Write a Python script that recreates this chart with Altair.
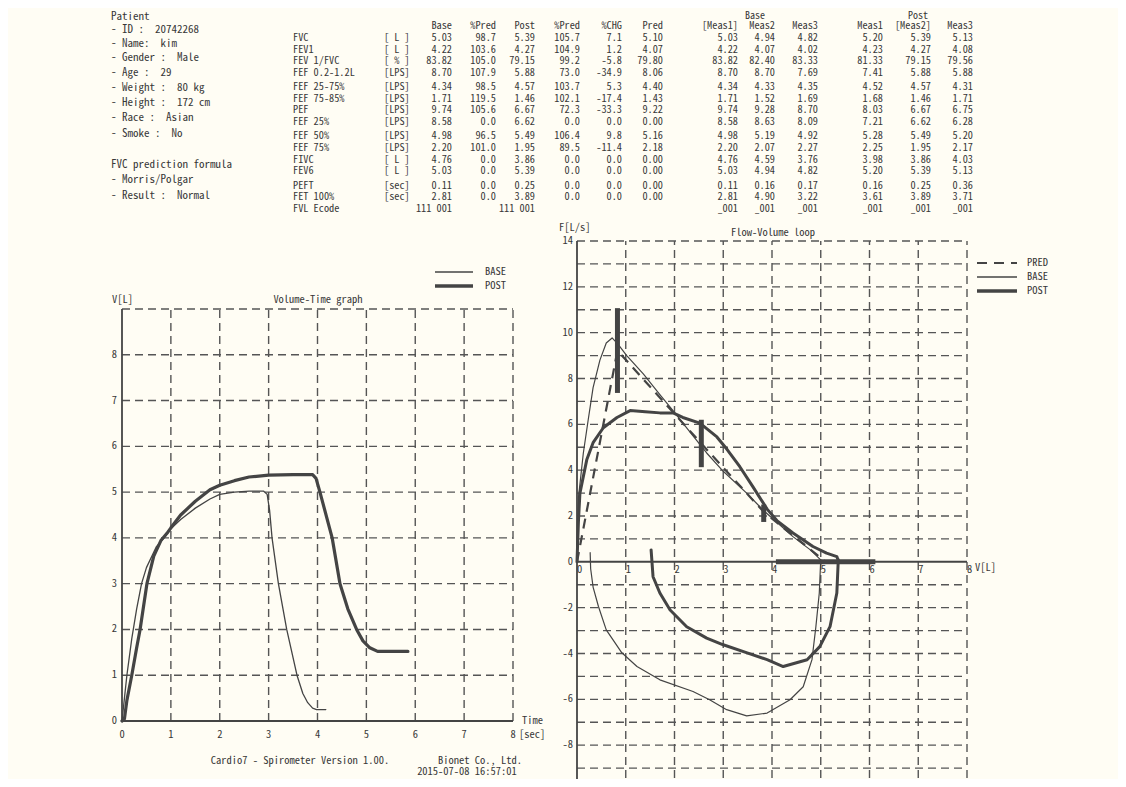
import altair as alt
import pandas as pd

# ------------------------------------------------------------------ data
patient_lines = ["Patient", "- ID :  20742268", "- Name:  kim", "- Gender :  Male",
                 "- Age :  29", "- Weight :  80 kg", "- Height :  172 cm",
                 "- Race :  Asian", "- Smoke :  No", "FVC prediction formula",
                 "- Morris/Polgar", "- Result :  Normal"]

params = ["FVC", "FEV1", "FEV 1/FVC", "FEF 0.2-1.2L", "FEF 25-75%", "FEF 75-85%", "PEF",
          "FEF 25%", "FEF 50%", "FEF 75%", "FIVC", "FEV6", "PEFT", "FET 100%", "FVL Ecode"]
units = ["[ L ]", "[ L ]", "[ % ]", "[LPS]", "[LPS]", "[LPS]", "[LPS]", "[LPS]", "[LPS]",
         "[LPS]", "[ L ]", "[ L ]", "[sec]", "[sec]", ""]
col_headers = ["Base", "%Pred", "Post", "%Pred", "%CHG", "Pred"]
base = ["5.03", "4.22", "83.82", "8.70", "4.34", "1.71", "9.74", "8.58", "4.98", "2.20",
        "4.76", "5.03", "0.11", "2.81", "111 001"]
pct_pred_base = ["98.7", "103.6", "105.0", "107.9", "98.5", "119.5", "105.6", "0.0", "96.5",
                 "101.0", "0.0", "0.0", "0.0", "0.0", ""]
post = ["5.39", "4.27", "79.15", "5.88", "4.57", "1.46", "6.67", "6.62", "5.49", "1.95",
        "3.86", "5.39", "0.25", "3.89", "111 001"]
pct_pred_post = ["105.7", "104.9", "99.2", "73.0", "103.7", "102.1", "72.3", "0.0", "106.4",
                 "89.5", "0.0", "0.0", "0.0", "0.0", ""]
pct_chg = ["7.1", "1.2", "-5.8", "-34.9", "5.3", "-17.4", "-33.3", "0.0", "9.8", "-11.4",
           "0.0", "0.0", "0.0", "0.0", ""]
pred = ["5.10", "4.07", "79.80", "8.06", "4.40", "1.43", "9.22", "0.00", "5.16", "2.18",
        "0.00", "0.00", "0.00", "0.00", ""]

meas_group_headers = ["Base", "Post"]
meas_headers = ["[Meas1]", "Meas2", "Meas3", "Meas1", "[Meas2]", "Meas3"]
base_meas1 = ["5.03", "4.22", "83.82", "8.70", "4.34", "1.71", "9.74", "8.58", "4.98", "2.20",
              "4.76", "5.03", "0.11", "2.81", "_001"]
base_meas2 = ["4.94", "4.07", "82.40", "8.70", "4.33", "1.52", "9.28", "8.63", "5.19", "2.07",
              "4.59", "4.94", "0.16", "4.90", "_001"]
base_meas3 = ["4.82", "4.02", "83.33", "7.69", "4.35", "1.69", "8.70", "8.09", "4.92", "2.27",
              "3.76", "4.82", "0.17", "3.22", "_001"]
post_meas1 = ["5.20", "4.23", "81.33", "7.41", "4.52", "1.68", "8.03", "7.21", "5.28", "2.25",
              "3.98", "5.20", "0.16", "3.61", "_001"]
post_meas2 = ["5.39", "4.27", "79.15", "5.88", "4.57", "1.46", "6.67", "6.62", "5.49", "1.95",
              "3.86", "5.39", "0.25", "3.89", "_001"]
post_meas3 = ["5.13", "4.08", "79.56", "5.88", "4.31", "1.71", "6.75", "6.28", "5.20", "2.17",
              "4.03", "5.13", "0.36", "3.71", "_001"]

# Volume-Time graph
vt_base_t = [0, 0.05, 0.1, 0.2, 0.3, 0.4, 0.5, 0.7, 0.9, 1.0, 1.2, 1.5, 1.8, 2.0, 2.3, 2.6,
             2.9, 2.97, 3.02, 3.07, 3.2, 3.37, 3.58, 3.7, 3.8, 3.9, 3.98, 4.17]
vt_base_v = [0, 0.5, 1.0, 1.8, 2.45, 3.0, 3.35, 3.8, 4.05, 4.2, 4.4, 4.65, 4.85, 4.95, 5.0,
             5.02, 5.02, 4.95, 4.6, 4.0, 3.0, 2.0, 1.0, 0.6, 0.4, 0.28, 0.25, 0.25]
vt_post_t = [0, 0.05, 0.1, 0.2, 0.3, 0.37, 0.51, 0.65, 0.8, 0.92, 1.0, 1.2, 1.5, 1.8, 2.0,
             2.3, 2.6, 3.0, 3.5, 3.9, 3.97, 4.05, 4.3, 4.46, 4.62, 4.8, 4.93, 5.07, 5.23, 5.85]
vt_post_v = [0, 0.05, 0.45, 1.0, 1.6, 2.0, 3.0, 3.6, 3.95, 4.1, 4.22, 4.5, 4.8, 5.05, 5.15,
             5.25, 5.33, 5.37, 5.38, 5.38, 5.3, 5.0, 4.0, 3.0, 2.45, 2.0, 1.75, 1.6, 1.52, 1.52]

# Flow-Volume loop
fv_pred_v = [0, 0.83, 2.55, 3.83, 5.10]
fv_pred_f = [0, 9.22, 5.16, 2.18, 0]
fv_base_v = [0, 0.03, 0.13, 0.23, 0.33, 0.47, 0.6, 0.72, 0.84, 1.02, 1.36, 1.7, 1.97, 2.38,
             2.66, 3.0, 3.48, 3.82, 4.43, 4.8, 5.04,
             5.0, 4.97, 4.9, 4.82, 4.64, 4.37, 3.9, 3.48, 3.07, 2.72, 2.38, 1.7, 1.23, 0.92,
             0.6, 0.44, 0.33, 0.28, 0.27]
fv_base_f = [0, 2.8, 4.75, 6.2, 7.6, 8.8, 9.55, 9.77, 9.5, 9.0, 8.2, 7.3, 6.6, 5.5,
             4.75, 3.95, 3.0, 2.25, 1.1, 0.5, 0,
             0.1, -1.36, -2.83, -4.27, -5.45, -6.02, -6.6, -6.72, -6.45, -6.02, -5.66, -5.15,
             -4.57, -3.97, -2.97, -1.95, -1.1, -0.3, 0.4]
fv_post_v = [0, 0.03, 0.06, 0.2, 0.33, 0.54, 0.82, 1.09, 1.4, 1.7, 1.97, 2.17, 2.52, 2.87,
             3.08, 3.34, 3.61, 3.9, 4.1, 4.43, 4.84, 5.12, 5.33, 5.36,
             5.36, 5.33, 5.19, 4.98, 4.72, 4.23, 3.9, 3.49, 3.0, 2.66, 2.25, 1.91, 1.7, 1.56,
             1.52]
fv_post_f = [0, 1.8, 3.0, 4.45, 5.2, 5.85, 6.3, 6.6, 6.55, 6.5, 6.5, 6.3, 6.05, 5.45,
             4.9, 4.15, 3.27, 2.3, 1.8, 1.26, 0.67, 0.38, 0.23, 0.05,
             0.1, -1.36, -2.83, -3.7, -4.27, -4.57, -4.27, -3.97, -3.62, -3.33, -2.83, -2.1,
             -1.36, -0.65, 0.52]
# predicted markers (vertical bars) and FVC range bar
mark_v = [0.83, 2.55, 3.83]
mark_lo = [7.37, 4.13, 1.74]
mark_hi = [11.07, 6.2, 2.5]
fvc_range = [4.08, 6.12]

vt_x_ticks = [0, 1, 2, 3, 4, 5, 6, 7, 8]
vt_y_ticks = [0, 1, 2, 3, 4, 5, 6, 7, 8]
fv_x_ticks = [0, 1, 2, 3, 4, 5, 6, 7, 8]
fv_y_ticks = [-8, -6, -4, -2, 0, 2, 4, 6, 8, 10, 12, 14]

# ------------------------------------------------------------------ layout / style
OFF = 8
W, H = 1110, 771
def P(v):
    return v - OFF

FONT = "Noto Sans Mono CJK KR, Noto Sans Mono CJK SC, DejaVu Sans Mono, monospace"
TXT = "#383838"
LINE = "#444444"
GRID = "#555555"
DASH = [8, 5]

LX = alt.Scale(domain=[0, 8], range=[P(122), P(513)], nice=False, zero=False)
LY = alt.Scale(domain=[0, 9], range=[P(721), P(309)], nice=False, zero=False)
RX = alt.Scale(domain=[0, 8], range=[P(577), P(967)], nice=False, zero=False)
RY = alt.Scale(domain=[-10, 14], range=[P(791), P(241)], nice=False, zero=False)

patient_y = [17, 30, 44, 58, 73, 88, 103, 118, 134, 165, 180, 196]
PATIENT_X = 111
HEADER_Y = 26
GROUP_Y = 15.5
def row_y(i):
    return 38 + i * 11.6 + (i // 4) * 2.8
LABEL_X, UNIT_X = 293, 384
main_cols_x = [452, 496, 535, 580, 622, 663]
meas_cols_x = [738, 775, 818, 883, 931, 973]
meas_group_x = [755, 918]

def keep_spaces(s):
    return s.replace("  ", " \u00a0")

layers = []

def text_layer(rows, align="left", size=10.5, color=TXT, baseline="middle"):
    df = pd.DataFrame(rows, columns=["px", "py", "t"])
    df["px"] = df["px"] - OFF
    df["py"] = df["py"] - OFF
    df["t"] = df["t"].map(keep_spaces)
    return alt.Chart(df).mark_text(align=align, baseline=baseline, font=FONT,
                                   fontSize=size, color=color).encode(
        x=alt.X("px:Q", scale=None, axis=None),
        y=alt.Y("py:Q", scale=None, axis=None),
        text="t:N")

# --- header texts
left_rows = [(PATIENT_X, y, t) for t, y in zip(patient_lines, patient_y)]
layers.append(text_layer(left_rows, size=11))

tab_left = []
for i, (p, u) in enumerate(zip(params, units)):
    tab_left.append((LABEL_X, row_y(i), p))
    if u:
        tab_left.append((UNIT_X, row_y(i), u))
layers.append(text_layer(tab_left, size=10.3))

tab_right = []
for h, x in zip(col_headers, main_cols_x):
    tab_right.append((x, HEADER_Y, h))
for col, x in zip([base, pct_pred_base, post, pct_pred_post, pct_chg, pred], main_cols_x):
    for i, v in enumerate(col):
        if v:
            tab_right.append((x, row_y(i), v))
for h, x in zip(meas_headers, meas_cols_x):
    tab_right.append((x, HEADER_Y, h))
for col, x in zip([base_meas1, base_meas2, base_meas3, post_meas1, post_meas2, post_meas3],
                  meas_cols_x):
    for i, v in enumerate(col):
        tab_right.append((x, row_y(i), v))
layers.append(text_layer(tab_right, align="right", size=10.3))

layers.append(text_layer([(x, GROUP_Y, t) for t, x in zip(meas_group_headers, meas_group_x)],
                         align="center", size=10))

# --- chart-level texts
layers.append(text_layer([(318, 300, "Volume-Time graph"), (773, 233, "Flow-Volume loop"),
                          (300, 761, "Cardio7 - Spirometer Version 1.00."),
                          (480, 761, "Bionet Co., Ltd."),
                          (467, 772, "2015-07-08 16:57:01")], align="center", size=10.5))
layers.append(text_layer([(112, 300, "V[L]"), (522, 721, "Time"), (519, 735, "[sec]"),
                          (559, 228, "F[L/s]"), (975, 568, "V[L]"),
                          (485, 272, "BASE"), (485, 286, "POST"),
                          (1027, 263, "PRED"), (1027, 277, "BASE"), (1027, 291, "POST")],
                         size=10.5))

# --- legends
def leg(x1, x2, y, width, dash=None):
    kw = dict(color=LINE, strokeWidth=width)
    if dash:
        kw["strokeDash"] = dash
    return alt.Chart(pd.DataFrame({"k": [0]})).mark_rule(**kw).encode(
        x=alt.value(P(x1)), x2=alt.value(P(x2)), y=alt.value(P(y)))
layers += [leg(435, 473, 272, 1.3), leg(435, 473, 286, 3.5),
           leg(977, 1017, 263, 2, [10, 7]), leg(977, 1017, 277, 1.3), leg(977, 1017, 291, 3.5)]

# --- generic chart pieces
def grid_layers(xs, ys, xdom, ydom, xticks_grid, yticks_grid):
    out = []
    gv = pd.DataFrame({"x": xticks_grid, "y": ydom[0], "y2": ydom[1]})
    out.append(alt.Chart(gv).mark_rule(color=GRID, strokeWidth=1.4, strokeDash=DASH).encode(
        x=alt.X("x:Q", scale=xs, axis=None), y=alt.Y("y:Q", scale=ys, axis=None), y2="y2:Q"))
    gh = pd.DataFrame({"y": yticks_grid, "x": xdom[0], "x2": xdom[1]})
    out.append(alt.Chart(gh).mark_rule(color=GRID, strokeWidth=1.4, strokeDash=DASH).encode(
        x=alt.X("x:Q", scale=xs, axis=None), x2="x2:Q", y=alt.Y("y:Q", scale=ys, axis=None)))
    ax_v = pd.DataFrame({"x": [0], "y": [ydom[0]], "y2": [ydom[1]]})
    out.append(alt.Chart(ax_v).mark_rule(color=LINE, strokeWidth=1.8).encode(
        x=alt.X("x:Q", scale=xs, axis=None), y=alt.Y("y:Q", scale=ys, axis=None), y2="y2:Q"))
    ax_h = pd.DataFrame({"y": [0], "x": [xdom[0]], "x2": [xdom[1]]})
    out.append(alt.Chart(ax_h).mark_rule(color=LINE, strokeWidth=2).encode(
        x=alt.X("x:Q", scale=xs, axis=None), x2="x2:Q", y=alt.Y("y:Q", scale=ys, axis=None)))
    return out

def tick_labels(xs, ys, vals, fixed, axis, align, dx, dy):
    if axis == "x":
        df = pd.DataFrame({"x": vals, "y": fixed})
    else:
        df = pd.DataFrame({"x": fixed, "y": vals})
    df["t"] = [str(v) for v in vals]
    return alt.Chart(df).mark_text(align=align, baseline="middle", dx=dx, dy=dy, font=FONT,
                                   fontSize=10.5, color=TXT).encode(
        x=alt.X("x:Q", scale=xs, axis=None), y=alt.Y("y:Q", scale=ys, axis=None), text="t:N")

def curve(xs, ys, xv, yv, width, dash=None):
    df = pd.DataFrame({"x": xv, "y": yv, "i": range(len(xv))})
    kw = dict(color=LINE, strokeWidth=width, strokeJoin="round", strokeCap="round")
    if dash:
        kw["strokeDash"] = dash
        kw["strokeCap"] = "butt"
    return alt.Chart(df).mark_line(**kw).encode(
        x=alt.X("x:Q", scale=xs, axis=None), y=alt.Y("y:Q", scale=ys, axis=None),
        order="i:Q")

# --- Volume-Time graph
layers += grid_layers(LX, LY, [0, 8], [0, 9], [1, 2, 3, 4, 5, 6, 7, 8],
                      [1, 2, 3, 4, 5, 6, 7, 8, 9])
layers.append(tick_labels(LX, LY, vt_x_ticks, 0, "x", "center", 0, 14))
layers.append(tick_labels(LX, LY, vt_y_ticks, 0, "y", "right", -5, 0))
layers.append(curve(LX, LY, vt_base_t, vt_base_v, 1.3))
layers.append(curve(LX, LY, vt_post_t, vt_post_v, 3.2))

# --- Flow-Volume loop
layers += grid_layers(RX, RY, [0, 8], [-10, 14], [1, 2, 3, 4, 5, 6, 7, 8],
                      [v for v in range(-10, 15) if v != 0])
layers.append(tick_labels(RX, RY, fv_x_ticks, 0, "x", "left", 0, 8))
layers.append(tick_labels(RX, RY, fv_y_ticks, 0, "y", "right", -4, 0))
layers.append(curve(RX, RY, fv_pred_v, fv_pred_f, 2.2, [10, 7]))
layers.append(curve(RX, RY, fv_base_v, fv_base_f, 1.2))
layers.append(curve(RX, RY, fv_post_v, fv_post_f, 3.0))
mk = pd.DataFrame({"x": mark_v, "y": mark_lo, "y2": mark_hi})
layers.append(alt.Chart(mk).mark_rule(color=LINE, strokeWidth=5).encode(
    x=alt.X("x:Q", scale=RX, axis=None), y=alt.Y("y:Q", scale=RY, axis=None), y2="y2:Q"))
fr = pd.DataFrame({"x": [fvc_range[0]], "x2": [fvc_range[1]], "y": [0]})
layers.append(alt.Chart(fr).mark_rule(color=LINE, strokeWidth=5).encode(
    x=alt.X("x:Q", scale=RX, axis=None), x2="x2:Q", y=alt.Y("y:Q", scale=RY, axis=None)))

chart = alt.layer(*layers).resolve_scale(x="independent", y="independent").properties(
    width=W, height=H, autosize="none", padding=0, background="#fffdf4"
).configure_view(stroke=None)

chart.save("out.html", embed_options={"renderer": "svg", "actions": False})
